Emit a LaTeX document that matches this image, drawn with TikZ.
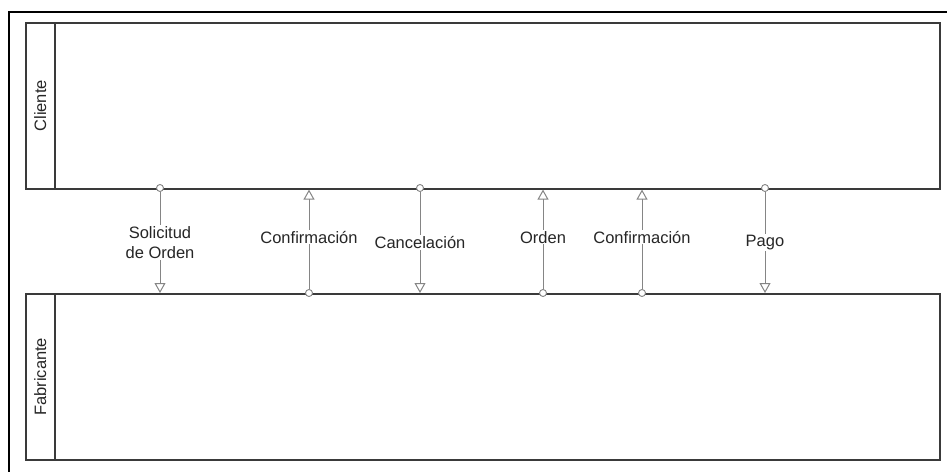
\documentclass[tikz,border=0pt]{standalone}
\usepackage{fontspec}
\setmainfont{Liberation Sans}
\usetikzlibrary{arrows.meta,positioning}
\definecolor{PoolLine}{HTML}{3A3A3A}
\definecolor{FlowGray}{HTML}{858585}
\definecolor{LabelInk}{HTML}{262626}

\begin{document}
\begin{tikzpicture}[x=1pt,y=-1pt,
  pool/.style={draw=PoolLine,line width=1.6pt,minimum width=914pt,minimum height=166pt,inner sep=0pt,anchor=north west},
  band/.style={draw=PoolLine,line width=1.6pt,minimum width=29pt,minimum height=166pt,inner sep=0pt,anchor=north west},
  lane/.style={rotate=90,text=LabelInk,font=\fontsize{16.5}{19}\selectfont},
  dot/.style={circle,draw=FlowGray,fill=white,line width=.9pt,minimum size=7pt,inner sep=0pt},
  flow/.style={draw=FlowGray,line width=1pt,-{Triangle[open,width=11pt,length=10pt]}},
  msg/.style={fill=white,text=LabelInk,font=\fontsize{16.5}{20}\selectfont,align=center,inner sep=1pt}]
\useasboundingbox (0,0) rectangle (947,471);
\draw[line width=1.6pt] (9,480)--(9,12)--(960,12);
% pools
\node[pool] (cli) at (25,22) {};\node[band] (clib) at (25,22) {};
\node[pool] (fab) at (25,293) {};\node[band] (fabb) at (25,293) {};
\node[lane] at (clib.center) {Cliente};\node[lane] at (fabb.center) {Fabricante};
% mensajes
\node[dot] (m1) at (160,188) {};\node[dot] (m2) at (309,293) {};\node[dot] (m3) at (420,188) {};
\node[dot] (m4) at (543,293) {};\node[dot] (m5) at (642,293) {};\node[dot] (m6) at (765,188) {};
\draw[flow] (m1)--(m1 |- fab.north) node[msg,pos=.5] {Solicitud\\de Orden};
\draw[flow] (m2)--(m2 |- cli.south) node[msg,pos=.5,yshift=2pt] {Confirmación};
\draw[flow] (m3)--(m3 |- fab.north) node[msg,pos=.5] {Cancelación};
\draw[flow] (m4)--(m4 |- cli.south) node[msg,pos=.5,yshift=2pt] {Orden};
\draw[flow] (m5)--(m5 |- cli.south) node[msg,pos=.5,yshift=2pt] {Confirmación};
\draw[flow] (m6)--(m6 |- fab.north) node[msg,pos=.5] {Pago};
\end{tikzpicture}
\end{document}
